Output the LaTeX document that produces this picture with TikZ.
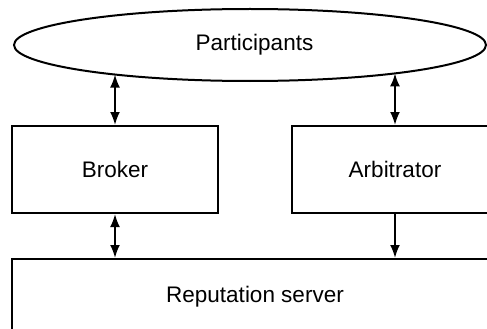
\documentclass[tikz,border=0pt]{standalone}
\usepackage{fontspec}
\setmainfont{Liberation Sans}
\usetikzlibrary{shapes.geometric,arrows.meta}
\begin{document}
\begin{tikzpicture}[x=1pt,y=-1pt,
  every node/.style={font=\fontsize{22.5}{26}\selectfont},
  boxnode/.style={draw,line width=2pt,rectangle,inner sep=0pt,minimum width=206pt,minimum height=87pt},
  conn/.style={line width=2pt},
  tip/.tip={Latex[length=13pt,width=10pt]}]
\useasboundingbox (0,0) rectangle (487,329);
\clip (0,0) rectangle (487,329);
\node[draw,line width=2pt,ellipse,inner sep=0pt,minimum width=472pt,minimum height=72pt] (part) at (250,45) {\hspace*{9pt}Participants};
\node[boxnode] (broker) at (115,169.5) {Broker};
\node[boxnode] (arb) at (395,169.5) {Arbitrator};
\node[boxnode,minimum width=486pt,minimum height=76pt] (rep) at (255,297) {Reputation server};
\coordinate (pb) at (115,74.5);
\coordinate (pa) at (395,73.4);
\draw[conn,tip-tip] (pb) -- (broker.north);
\draw[conn,tip-tip] (pa) -- (arb.north);
\draw[conn,tip-tip] (broker.south) -- (broker.south |- rep.north);
\draw[conn,-tip] (arb.south) -- (arb.south |- rep.north);
\end{tikzpicture}
\end{document}
